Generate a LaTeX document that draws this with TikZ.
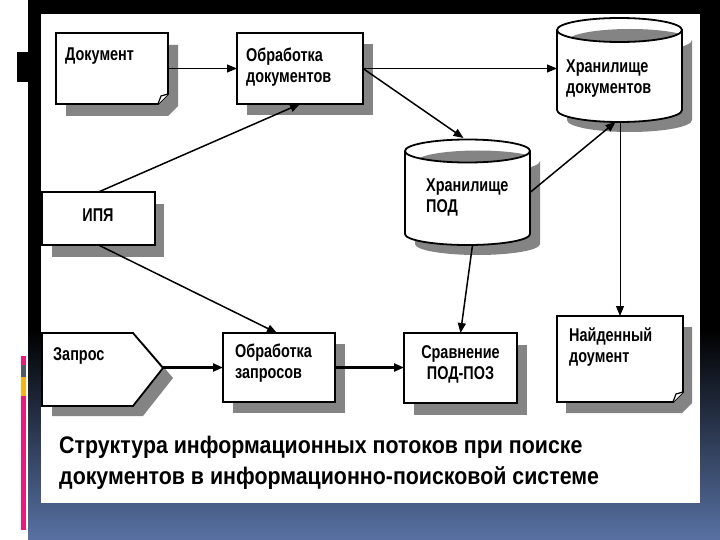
\documentclass[tikz,border=0pt]{standalone}
\usepackage{fontspec}
\setmainfont[FakeStretch=0.78]{Liberation Sans}
\newfontfamily\capfont[FakeStretch=0.89]{Liberation Sans}
\usetikzlibrary{arrows.meta,calc}
\definecolor{shd}{RGB}{132,132,132}
\definecolor{navyb}{RGB}{88,114,163}
\definecolor{pinkbar}{RGB}{226,30,120}
\definecolor{yelbar}{RGB}{240,180,30}
\definecolor{graybar}{RGB}{80,90,100}
\tikzset{
  anchorbox/.style={draw=none, inner sep=0pt, outer sep=0pt},
  plainbox/.style={draw=black, line width=1.8pt, fill=white, inner sep=0pt, outer sep=0pt},
  outline/.style={draw=black, line width=1.8pt},
  shadowfill/.style={fill=shd},
  lbl/.style={font=\bfseries\fontsize{18.5}{21}\selectfont, align=left, inner sep=0pt},
  tip/.style={-{Triangle[length=10pt,width=8pt]}},
  thinconn/.style={tip, line width=0.9pt},
  midconn/.style={tip, line width=1.5pt},
  thickconn/.style={tip, line width=2.2pt},
}
\begin{document}
\begin{tikzpicture}[x=1pt,y=-1pt]
\useasboundingbox (0,0) rectangle (720,540);
% background
\fill[white] (0,0) rectangle (720,540);
\fill[black] (28,0) rectangle (720,330);
\shade[top color=black, bottom color=navyb] (28,329.5) rectangle (720,540);
\fill[black] (17,52) rectangle (28,82);
\fill[pinkbar] (20.5,356) rectangle (25.5,365);
\fill[graybar] (20.5,365) rectangle (25.5,377);
\fill[yelbar] (20.5,377) rectangle (25.5,396);
\fill[pinkbar] (20.5,396) rectangle (25.5,530);
% panel
\fill[white] (41,14) rectangle (700,503);

% ---- shadows ----
\fill[shadowfill] (66,45) -- (178,45) -- (178,106) -- (168,116) -- (66,116) -- cycle;
\fill[shadowfill] (247,44) rectangle (373,115);
\fill[shadowfill] (567,40) -- (567,120) arc[start angle=180, end angle=0, x radius=62.5, y radius=12] -- (692,40) arc[start angle=0, end angle=180, x radius=62.5, y radius=12] -- cycle;
\fill[shadowfill] (415,161) -- (415,244) arc[start angle=180, end angle=0, x radius=62.5, y radius=11] -- (540,161) arc[start angle=0, end angle=180, x radius=62.5, y radius=11.5] -- cycle;
\fill[shadowfill] (52,204) rectangle (164,257);
\fill[shadowfill] (52,343) -- (143,343) -- (173,378) -- (143,416) -- (52,416) -- cycle;
\fill[shadowfill] (233,344) rectangle (345,413);
\fill[shadowfill] (414,345) rectangle (527,415);
\fill[shadowfill] (566,327) -- (692,327) -- (692,403) -- (682,413) -- (566,413) -- cycle;

% ---- Документ ----
\node[anchorbox, minimum width=112pt, minimum height=71pt] (doc) at (112,68.5) {};
\filldraw[outline, fill=white, line join=miter] (56,33) -- (168,33) -- (168,94) -- (158,104) -- (56,104) -- cycle;
\draw[line width=1.2pt, fill=white] (158,104) -- (161,96) -- (168,94);
\node[lbl, anchor=west] (docT) at (65,56.5) {Документ};

% ---- Обработка документов ----
\node[plainbox, minimum width=126pt, minimum height=71pt] (obd) at (300,68.5) {};
\node[lbl, anchor=west] (obdT) at (246,67.5) {Обработка\\документов};

% ---- Хранилище документов ----
\node[anchorbox, minimum width=125pt, minimum height=104pt] (hd) at (619.5,70) {};
\fill[white] (557,30) -- (557,110) arc[start angle=180, end angle=0, x radius=62.5, y radius=12] -- (682,30) -- cycle;
\draw[outline] (557,30) -- (557,110) arc[start angle=180, end angle=0, x radius=62.5, y radius=12] -- (682,30);
\fill[white] (619.5,30) ellipse[x radius=62.5, y radius=12];
\begin{scope}
\clip (619.5,30) ellipse[x radius=62.5, y radius=12];
\fill[shadowfill] (630,41) ellipse[x radius=62.5, y radius=12];
\end{scope}
\draw[outline] (619.5,30) ellipse[x radius=62.5, y radius=12];
\node[lbl, anchor=west] (hdT) at (566,79) {Хранилище\\документов};

% ---- Хранилище ПОД ----
\node[anchorbox, minimum width=125pt, minimum height=105pt] (hpod) at (467.5,192.5) {};
\fill[white] (405,151) -- (405,234) arc[start angle=180, end angle=0, x radius=62.5, y radius=11] -- (530,151) -- cycle;
\draw[outline] (405,151) -- (405,234) arc[start angle=180, end angle=0, x radius=62.5, y radius=11] -- (530,151);
\fill[white] (467.5,151) ellipse[x radius=62.5, y radius=11.5];
\begin{scope}
\clip (467.5,151) ellipse[x radius=62.5, y radius=11.5];
\fill[shadowfill] (478,162) ellipse[x radius=62.5, y radius=11.5];
\end{scope}
\draw[outline] (467.5,151) ellipse[x radius=62.5, y radius=11.5];
\node[lbl, anchor=west] (hpodT) at (426,197) {Хранилище\\ПОД};

% ---- ИПЯ ----
\node[plainbox, minimum width=113pt, minimum height=53pt] (ipya) at (98.5,218.5) {};
\node[lbl] (ipyaT) at (98,215) {ИПЯ};

% ---- Запрос ----
\node[anchorbox, minimum width=121pt, minimum height=73pt] (zap) at (102.5,369.5) {};
\filldraw[outline, fill=white, line join=miter] (42,333) -- (133,333) -- (163,368) -- (133,406) -- (42,406) -- cycle;
\node[lbl, anchor=west] (zapT) at (53,356) {Запрос};

% ---- Обработка запросов ----
\node[plainbox, minimum width=112pt, minimum height=69pt] (obz) at (279,367.5) {};
\node[lbl, anchor=west] (obzT) at (235,363.5) {Обработка\\запросов};

% ---- Сравнение ПОД-ПОЗ ----
\node[plainbox, minimum width=113pt, minimum height=70pt] (srav) at (460.5,368) {};
\node[lbl, align=center] (sravT) at (460.5,364) {Сравнение\\ПОД-ПОЗ};

% ---- Найденный доумент ----
\node[anchorbox, minimum width=126pt, minimum height=86pt] (naid) at (620,359) {};
\filldraw[outline, fill=white, line join=miter] (557,316) -- (683,316) -- (683,392) -- (673,402) -- (557,402) -- cycle;
\draw[line width=1.2pt, fill=white] (673,402) -- (676,394) -- (683,392);
\node[lbl, anchor=west] (naidT) at (569,347) {Найденный\\доумент};

% ---- caption ----
\node[font=\capfont\bfseries\fontsize{24}{31}\selectfont, align=left, anchor=west, inner sep=0pt] (cap) at (59,463) {Структура информационных потоков при поиске\\документов в информационно-поисковой системе};

% ---- connectors ----
\draw[thinconn] (doc.east) -- (obd.west);
\draw[thinconn] (obd.east) -- (obd.east -| hd.west);
\draw[midconn] (obd.east) -- ($(hpod.north)+(-4,-2)$);
\draw[midconn] (ipya.north) -- (obd.south);
\draw[midconn] (ipya.south) -- ($(obz.north)+(-2,0)$);
\draw[thickconn] (zap.east |- obz.west) -- (obz.west);
\draw[thickconn] (obz.east) -- (obz.east -| srav.west);
\draw[midconn] ($(hpod.south)+(5,0)$) -- (srav.north);
\draw[midconn] (hpod.east) -- ($(hd.south)+(-4,0)$);
\draw[thinconn] ($(hd.south)+(0.5,0)$) -- ($(hd.south |- naid.north)+(0.5,0)$);
\end{tikzpicture}
\end{document}
